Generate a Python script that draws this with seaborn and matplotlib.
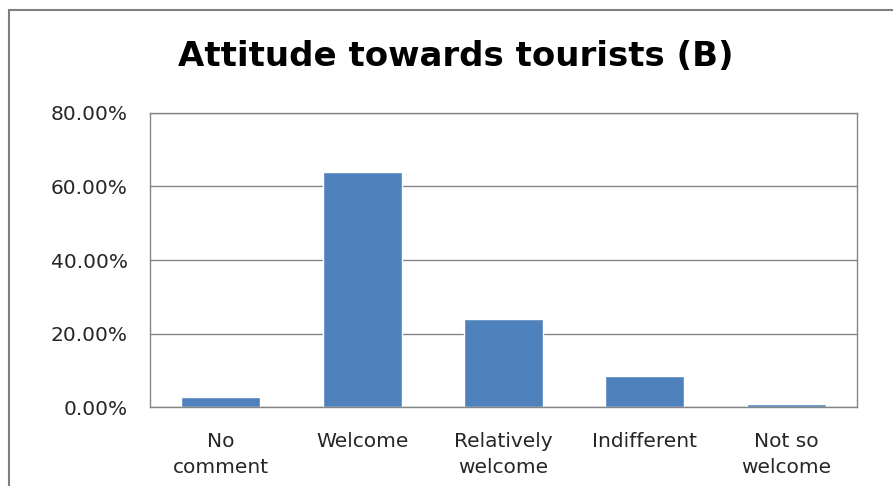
import matplotlib
matplotlib.use("Agg")
import matplotlib.pyplot as plt
from matplotlib.patches import Rectangle
from matplotlib.ticker import FuncFormatter
import seaborn as sns
import pandas as pd

# Survey responses: share of respondents per attitude
categories = ["No\ncomment", "Welcome", "Relatively\nwelcome", "Indifferent", "Not so\nwelcome"]
shares = [2.8, 63.9, 23.9, 8.4, 0.9]
y_ticks = [0, 20, 40, 60, 80]
title = "Attitude towards tourists (B)"

sns.set_theme(style="white")
plt.rcParams["font.family"] = ["DejaVu Sans"]

df = pd.DataFrame({"category": categories, "share": shares})

fig = plt.figure(figsize=(8.93, 4.86), dpi=100)
W, H = 893, 486
ax = fig.add_axes([150 / W, (H - 407) / H, 707 / W, 294 / H])

sns.barplot(data=df, x="category", y="share", color="#4F81BD", saturation=1,
            width=0.56, ax=ax)

ax.set_ylim(0, 80)
ax.set_yticks(y_ticks)
ax.yaxis.set_major_formatter(FuncFormatter(lambda v, _: f"{v:.2f}%"))
ax.grid(axis="y", color="#868686", linewidth=1.0)
ax.set_axisbelow(True)
ax.set_xlabel("")
ax.set_ylabel("")
ax.tick_params(axis="both", length=0, labelsize=14.5, colors="#262626")
ax.tick_params(axis="y", pad=16)
ax.tick_params(axis="x", pad=18)
for lbl in ax.get_xticklabels():
    lbl.set_linespacing(1.45)
for side in ["left", "top", "right", "bottom"]:
    ax.spines[side].set_color("#868686")
    ax.spines[side].set_linewidth(1.0)

# Outer chart frame (clipped at the right and bottom edges)
fig.patches.append(Rectangle((9 / W, -0.1), 1.2, (H - 10) / H + 0.1,
                             transform=fig.transFigure, fill=False,
                             edgecolor="#7f7f7f", linewidth=1.5))

fig.text(456 / W, 1 - 56 / H, title, ha="center", va="center",
         fontsize=24.5, fontweight="bold", color="black")

fig.savefig("out.png", dpi=100)
